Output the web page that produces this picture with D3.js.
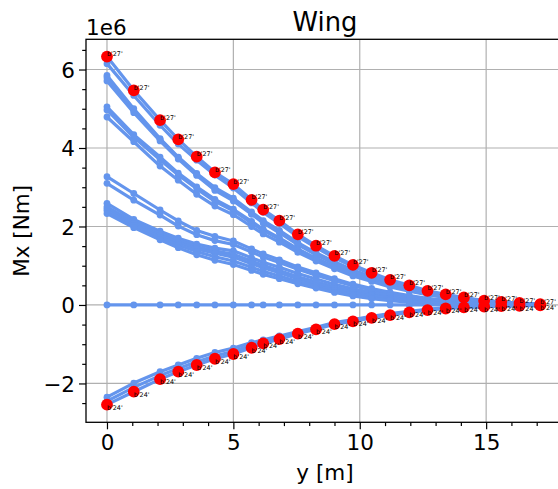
<!DOCTYPE html>
<html>
<head>
<meta charset="utf-8">
<script src="https://cdn.jsdelivr.net/npm/d3@7"></script>
<style>
  html, body { margin: 0; padding: 0; background: #fff; }
  svg { display: block; font-family: "DejaVu Sans", sans-serif; }
</style>
</head>
<body>
<svg id="chart" width="558" height="489"></svg>
<script>
// Span-wise stations y [m]
const yNodes = [0, 1.06, 2.1, 2.82, 3.55, 4.27, 5.0, 5.72, 6.18, 6.82, 7.55, 8.27, 9.0, 9.73, 10.47, 11.2, 11.96, 12.68, 13.4, 14.12, 14.92, 15.6, 16.32, 17.14];

// Mx [1e6 Nm] per load case
const mx27 = [6.33, 5.47, 4.71, 4.22, 3.78, 3.38, 3.08, 2.68, 2.43, 2.15, 1.80, 1.51, 1.25, 1.02, 0.82, 0.64, 0.50, 0.36, 0.27, 0.19, 0.11, 0.08, 0.05, 0.02];
const mxB  = [6.15, 5.34, 4.58, 4.10, 3.69, 3.31, 2.98, 2.60, 2.36, 2.08, 1.74, 1.46, 1.20, 0.98, 0.79, 0.62, 0.47, 0.34, 0.25, 0.18, 0.10, 0.07, 0.04, 0.01];
const mxC  = [5.85, 5.00, 4.24, 3.77, 3.35, 2.99, 2.72, 2.37, 2.15, 1.90, 1.59, 1.33, 1.10, 0.89, 0.72, 0.56, 0.43, 0.31, 0.23, 0.16, 0.09, 0.06, 0.04, 0.01];
const mxD  = [5.79, 4.95, 4.22, 3.75, 3.33, 2.95, 2.68, 2.33, 2.12, 1.87, 1.56, 1.30, 1.07, 0.87, 0.70, 0.54, 0.41, 0.30, 0.22, 0.15, 0.09, 0.06, 0.03, 0.01];
const mxD2 = [5.71, 4.90, 4.18, 3.72, 3.30, 2.92, 2.65, 2.31, 2.09, 1.84, 1.54, 1.28, 1.05, 0.85, 0.68, 0.53, 0.40, 0.29, 0.21, 0.15, 0.08, 0.06, 0.03, 0.01];
const mxE1 = [5.05, 4.34, 3.77, 3.36, 3.01, 2.69, 2.44, 2.13, 1.93, 1.71, 1.43, 1.19, 0.98, 0.80, 0.64, 0.50, 0.38, 0.28, 0.20, 0.14, 0.08, 0.05, 0.03, 0.01];
const mxE2 = [4.97, 4.27, 3.70, 3.31, 2.96, 2.64, 2.40, 2.09, 1.90, 1.68, 1.40, 1.17, 0.96, 0.78, 0.63, 0.49, 0.37, 0.27, 0.20, 0.14, 0.08, 0.05, 0.03, 0.01];
const mxF  = [4.79, 4.16, 3.54, 3.18, 2.82, 2.52, 2.30, 2.00, 1.81, 1.60, 1.34, 1.12, 0.92, 0.74, 0.60, 0.46, 0.35, 0.26, 0.19, 0.13, 0.07, 0.05, 0.03, 0.01];
const mxG1 = [3.27, 2.84, 2.42, 2.14, 1.90, 1.75, 1.63, 1.43, 1.30, 1.15, 0.97, 0.82, 0.67, 0.53, 0.42, 0.32, 0.24, 0.17, 0.12, 0.08, 0.05, 0.03, 0.02, 0.00];
const mxG2 = [3.10, 2.67, 2.29, 2.01, 1.79, 1.64, 1.54, 1.35, 1.22, 1.08, 0.91, 0.76, 0.62, 0.49, 0.38, 0.29, 0.21, 0.15, 0.11, 0.07, 0.04, 0.03, 0.01, 0.00];
const mxH1 = [2.59, 2.18, 1.88, 1.70, 1.55, 1.45, 1.38, 1.20, 1.09, 0.96, 0.80, 0.66, 0.53, 0.41, 0.32, 0.24, 0.17, 0.12, 0.08, 0.05, 0.03, 0.02, 0.01, 0.00];
const mxH2 = [2.50, 2.12, 1.82, 1.64, 1.48, 1.38, 1.29, 1.12, 1.01, 0.88, 0.72, 0.59, 0.46, 0.35, 0.26, 0.19, 0.13, 0.09, 0.06, 0.04, 0.02, 0.01, 0.01, 0.00];
const mxH3 = [2.45, 2.08, 1.78, 1.59, 1.43, 1.32, 1.22, 1.05, 0.95, 0.82, 0.67, 0.54, 0.42, 0.31, 0.23, 0.16, 0.11, 0.07, 0.05, 0.03, 0.02, 0.01, 0.00, 0.00];
const mxH4 = [2.40, 2.03, 1.72, 1.53, 1.36, 1.23, 1.12, 0.96, 0.86, 0.74, 0.60, 0.48, 0.37, 0.27, 0.19, 0.13, 0.09, 0.06, 0.04, 0.02, 0.01, 0.01, 0.00, 0.00];
const mxH5 = [2.33, 1.97, 1.66, 1.46, 1.28, 1.14, 1.03, 0.88, 0.78, 0.67, 0.54, 0.43, 0.32, 0.23, 0.16, 0.11, 0.07, 0.05, 0.03, 0.02, 0.01, 0.00, 0.00, 0.00];
const mxZ  = [0, 0, 0, 0, 0, 0, 0, 0, 0, 0, 0, 0, 0, 0, 0, 0, 0, 0, 0, 0, 0, 0, 0, 0];
const mxN1 = [-2.35, -1.99, -1.70, -1.53, -1.36, -1.21, -1.10, -0.96, -0.89, -0.79, -0.68, -0.57, -0.45, -0.37, -0.29, -0.22, -0.16, -0.11, -0.07, -0.05, -0.03, -0.02, -0.01, 0.00];
const mxN2 = [-2.45, -2.10, -1.80, -1.62, -1.45, -1.30, -1.18, -1.03, -0.94, -0.83, -0.71, -0.60, -0.47, -0.40, -0.31, -0.24, -0.18, -0.12, -0.08, -0.05, -0.04, -0.03, -0.02, -0.01];
const mx24 = [-2.54, -2.21, -1.89, -1.70, -1.53, -1.37, -1.25, -1.09, -0.98, -0.87, -0.73, -0.62, -0.49, -0.42, -0.33, -0.26, -0.19, -0.13, -0.09, -0.06, -0.04, -0.03, -0.02, -0.01];

const maxLabel = "b'27'";
const minLabel = "b'24'";

const xMajorTicks = [0, 5, 10, 15];
const yMajorTicks = [-2, 0, 2, 4, 6];
const xMinorTicks = [1, 2, 3, 4, 6, 7, 8, 9, 11, 12, 13, 14, 16, 17, 18];
const yMinorTicks = [-2.5, -1.5, -1, -0.5, 0.5, 1, 1.5, 2.5, 3, 3.5, 4.5, 5, 5.5, 6.5];

const titleText = "Wing";
const xLabelText = "y [m]";
const yLabelText = "Mx [Nm]";
const offsetText = "1e6";

const lineSeries = [mx27, mxB, mxC, mxD, mxD2, mxE1, mxE2, mxF, mxG1, mxG2, mxH1, mxH2, mxH3, mxH4, mxH5, mxZ, mxN1, mxN2, mx24];

// ---------- layout ----------
const L = 86, R = 564, T = 39.3, B = 422.3;
const blue = "#6495ED";
const FS = 21.5;

const svg = d3.select("#chart");
const x = d3.scaleLinear().domain([-0.83, 18.08]).range([L, R]);
const y = d3.scaleLinear().domain([-2.99, 6.77]).range([B, T]);

// grid
const grid = svg.append("g").attr("stroke", "#b0b0b0").attr("stroke-width", 1.2);
grid.selectAll(".gx").data(xMajorTicks).join("line")
  .attr("x1", d => x(d)).attr("x2", d => x(d)).attr("y1", T).attr("y2", B);
grid.selectAll(".gy").data(yMajorTicks).join("line")
  .attr("x1", L).attr("x2", R).attr("y1", d => y(d)).attr("y2", d => y(d));

// lines
const line = d3.line().x((d, i) => x(yNodes[i])).y(d => y(d));
const plot = svg.append("g");
lineSeries.forEach(s => {
  plot.append("path").datum(s).attr("d", line)
    .attr("fill", "none").attr("stroke", blue).attr("stroke-width", 3.2)
    .attr("stroke-linejoin", "round");
  plot.append("g").selectAll("circle").data(s).join("circle")
    .attr("cx", (d, i) => x(yNodes[i])).attr("cy", d => y(d)).attr("r", 3.4)
    .attr("fill", blue);
});

// red envelope points
const red = svg.append("g");
[mx27, mx24].forEach(s => {
  red.append("g").selectAll("circle").data(s).join("circle")
    .attr("cx", (d, i) => x(yNodes[i])).attr("cy", d => y(d)).attr("r", 5.9)
    .attr("fill", "#ff0000");
});
const lab = svg.append("g").attr("font-size", 6.4).attr("fill", "#000");
lab.selectAll(".l27").data(mx27).join("text")
  .attr("x", (d, i) => x(yNodes[i])).attr("y", d => y(d) - 0.5)
  .text(maxLabel);
lab.selectAll(".l24").data(mx24).join("text")
  .attr("x", (d, i) => x(yNodes[i])).attr("y", d => y(d) + 5)
  .text(minLabel);

// axes
function styleAxis(g) {
  g.select(".domain").remove();
  g.selectAll(".tick line").attr("stroke", "#000").attr("stroke-width", 1.2);
  g.selectAll("text").attr("font-size", FS).attr("font-family", "DejaVu Sans").attr("fill", "#000");
}
const fmt = d => d < 0 ? "\u2212" + Math.abs(d) : String(d);
svg.append("g").attr("transform", `translate(0,${B})`)
  .call(d3.axisBottom(x).tickValues(xMajorTicks).tickSize(7).tickPadding(5.5).tickFormat(fmt))
  .call(styleAxis);
svg.append("g").attr("transform", `translate(0,${B})`)
  .call(d3.axisBottom(x).tickValues(xMinorTicks).tickSize(3.8).tickFormat(""))
  .call(styleAxis);
svg.append("g").attr("transform", `translate(${L},0)`)
  .call(d3.axisLeft(y).tickValues(yMajorTicks).tickSize(7).tickPadding(4).tickFormat(fmt))
  .call(styleAxis)
  .selectAll("text").attr("dy", "0.36em");
svg.append("g").attr("transform", `translate(${L},0)`)
  .call(d3.axisLeft(y).tickValues(yMinorTicks).tickSize(3.8).tickFormat(""))
  .call(styleAxis);

// spines
svg.append("rect").attr("x", L).attr("y", T).attr("width", R - L).attr("height", B - T)
  .attr("fill", "none").attr("stroke", "#000").attr("stroke-width", 1.3);

// texts
svg.append("text").attr("x", (L + R) / 2).attr("y", 30.7).attr("text-anchor", "middle")
  .attr("font-size", 25.8).text(titleText);
svg.append("text").attr("x", (L + R) / 2).attr("y", 480).attr("text-anchor", "middle")
  .attr("font-size", FS).text(xLabelText);
svg.append("text").attr("transform", `translate(29,${(T + B) / 2}) rotate(-90)`)
  .attr("text-anchor", "middle").attr("font-size", FS).text(yLabelText);
svg.append("text").attr("x", L).attr("y", 35).attr("font-size", FS).text(offsetText);
</script>
</body>
</html>
